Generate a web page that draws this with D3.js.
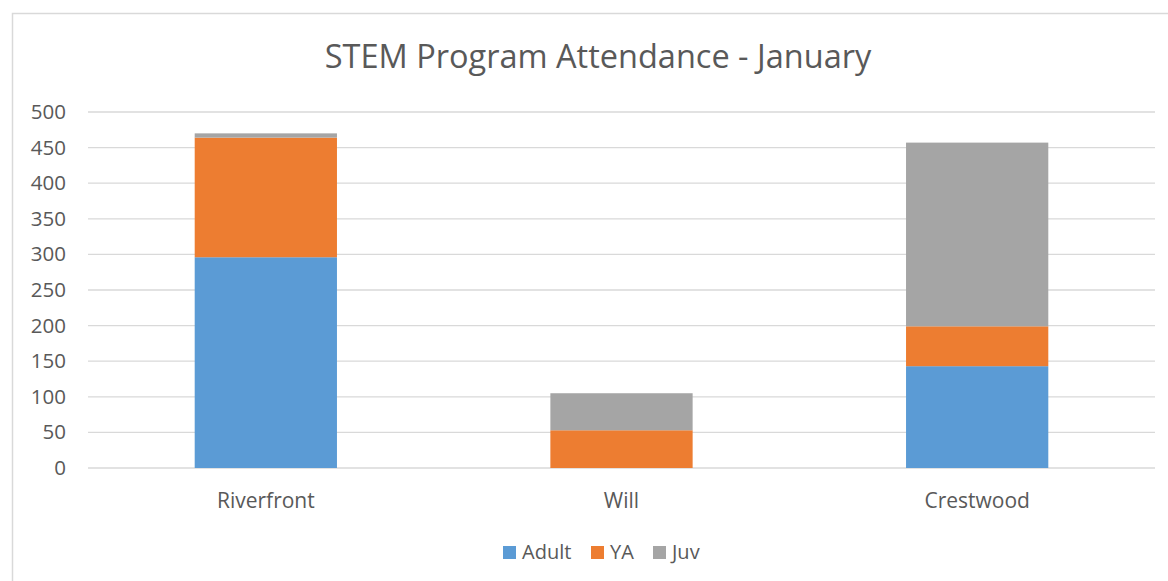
<!DOCTYPE html>
<html>
<head>
<meta charset="utf-8">
<script src="https://cdn.jsdelivr.net/npm/d3@7"></script>
<style>
  body { margin: 0; background: #fff; }
  text { font-family: "Open Sans", "Liberation Sans", sans-serif; fill: #595959; }
</style>
</head>
<body>
<div id="chart"></div>
<script>
// data
const categories = ["Riverfront", "Will", "Crestwood"];
const seriesNames = ["Adult", "YA", "Juv"];
const adult = [296, 0, 143];
const ya = [168, 53, 56];
const juv = [6, 52, 258];
const yTicks = [0, 50, 100, 150, 200, 250, 300, 350, 400, 450, 500];
const colors = ["#5b9bd5", "#ed7d31", "#a5a5a5"];

const width = 1168, height = 581;
const plot = { left: 88, right: 1155, top: 112, bottom: 468 };

const svg = d3.select("#chart").append("svg")
  .attr("width", width)
  .attr("height", height);

// chart border
svg.append("rect")
  .attr("x", 12.5).attr("y", 13.5)
  .attr("width", width).attr("height", height)
  .attr("fill", "none")
  .attr("stroke", "#d9d9d9")
  .attr("stroke-width", 1.5);

// title
svg.append("text")
  .attr("x", 598).attr("y", 68)
  .attr("text-anchor", "middle")
  .style("font-size", "32.5px")
  .text("STEM Program Attendance - January");

const x = d3.scaleBand()
  .domain(categories)
  .range([plot.left, plot.right])
  .paddingInner(0.6)
  .paddingOuter(0.3);

const y = d3.scaleLinear()
  .domain([0, 500])
  .range([plot.bottom, plot.top]);

// gridlines
svg.append("g")
  .selectAll("line")
  .data(yTicks).enter()
  .append("line")
  .attr("x1", plot.left).attr("x2", plot.right)
  .attr("y1", d => y(d)).attr("y2", d => y(d))
  .attr("stroke", "#d9d9d9")
  .attr("stroke-width", 1.3);

// y axis labels
const yAxis = svg.append("g")
  .attr("transform", "translate(" + plot.left + ",0)")
  .call(d3.axisLeft(y).tickValues(yTicks).tickSize(0).tickPadding(22));
yAxis.select(".domain").remove();
yAxis.selectAll("text")
  .style("font-size", "20.5px")
  .style("fill", "#595959")
  .style("font-family", "\"Open Sans\", sans-serif");

// x axis labels
const xAxis = svg.append("g")
  .attr("transform", "translate(0," + plot.bottom + ")")
  .call(d3.axisBottom(x).tickSize(0).tickPadding(25));
xAxis.select(".domain").remove();
xAxis.selectAll("text")
  .style("font-size", "21px")
  .style("fill", "#595959")
  .style("font-family", "\"Open Sans\", sans-serif");

// stacked bars
const table = categories.map((c, i) => ({ cat: c, Adult: adult[i], YA: ya[i], Juv: juv[i] }));
const stacked = d3.stack().keys(seriesNames)(table);

svg.append("g")
  .selectAll("g")
  .data(stacked).enter()
  .append("g")
  .attr("fill", (d, i) => colors[i])
  .selectAll("rect")
  .data(d => d).enter()
  .append("rect")
  .attr("x", d => x(d.data.cat))
  .attr("width", x.bandwidth())
  .attr("y", d => y(d[1]))
  .attr("height", d => y(d[0]) - y(d[1]));

// legend
const legendX = [503, 591, 653];
const legend = svg.append("g")
  .selectAll("g")
  .data(seriesNames).enter()
  .append("g")
  .attr("transform", (d, i) => "translate(" + legendX[i] + ",546)");
legend.append("rect")
  .attr("width", 13).attr("height", 13)
  .attr("fill", (d, i) => colors[i]);
legend.append("text")
  .attr("x", 19).attr("y", 13)
  .style("font-size", "20px")
  .text(d => d);
</script>
</body>
</html>
